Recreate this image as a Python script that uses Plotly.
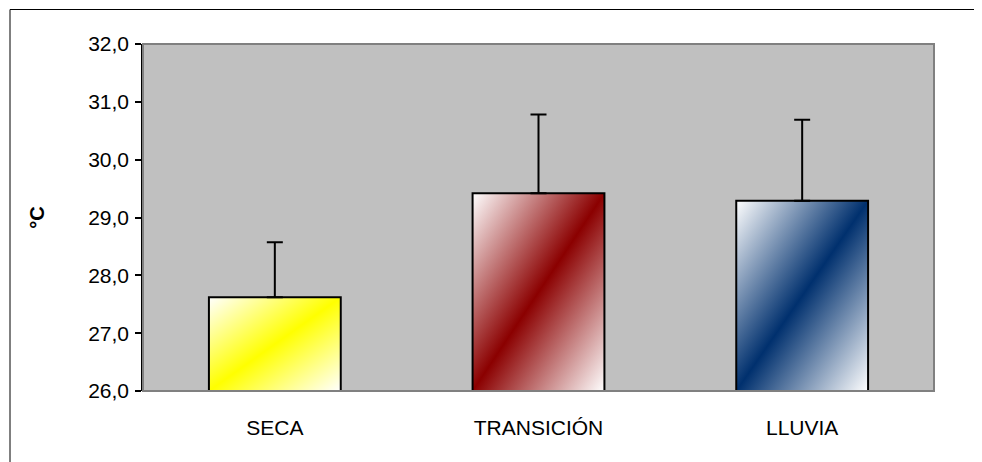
import base64
import plotly.graph_objects as go

categories = ["SECA", "TRANSICIÓN", "LLUVIA"]
means = [27.62, 29.42, 29.29]
errors_up = [0.95, 1.36, 1.40]
bar_colors = ["#FFFF00", "#8B0000", "#00306E"]
y_ticks = [26, 27, 28, 29, 30, 31, 32]
bar_width = 0.5
y_base = 26

def gradient_uri(color):
    svg = (
        '<svg xmlns="http://www.w3.org/2000/svg" width="100" height="100" preserveAspectRatio="none" viewBox="0 0 100 100">'
        '<defs><linearGradient id="g" x1="0" y1="0" x2="1" y2="1">'
        '<stop offset="0" stop-color="#FFFFFF"/>'
        f'<stop offset="0.5" stop-color="{color}"/>'
        '<stop offset="1" stop-color="#FFFFFF"/>'
        '</linearGradient></defs>'
        '<rect x="0" y="0" width="100" height="100" fill="url(#g)"/></svg>'
    )
    return "data:image/svg+xml;base64," + base64.b64encode(svg.encode()).decode()

fig = go.Figure()
fig.add_trace(go.Bar(
    x=categories,
    y=[m - y_base for m in means],
    base=y_base,
    width=bar_width,
    marker=dict(color="rgba(0,0,0,0)", line=dict(color="black", width=2)),
    error_y=dict(type="data", symmetric=False, array=errors_up, arrayminus=[0, 0, 0],
                 color="black", thickness=2, width=8),
    hoverinfo="skip",
))

images = []
for i, (m, c) in enumerate(zip(means, bar_colors)):
    images.append(dict(
        source=gradient_uri(c), xref="x", yref="y",
        x=i - bar_width / 2, y=m, sizex=bar_width, sizey=m - y_base,
        xanchor="left", yanchor="top", sizing="stretch", layer="below",
    ))

# page body has an 8px margin, so the figure is 8px smaller and margins shifted
fig.update_layout(
    width=974, height=454,
    margin=dict(l=135, r=48, t=36, b=71),
    paper_bgcolor="white",
    plot_bgcolor="#C0C0C0",
    separators=",.",
    showlegend=False,
    images=images,
    font=dict(family="Liberation Sans, Arial, sans-serif", color="black"),
    shapes=[
        dict(type="rect", xref="paper", yref="paper", x0=0, x1=1, y0=0, y1=1,
             line=dict(color="#808080", width=2), fillcolor="rgba(0,0,0,0)", layer="above"),
        dict(type="rect", xref="paper", yref="paper", x0=(10 - 143) / 791, x1=1.2,
             y0=-0.4, y1=1 + (44 - 9.5) / 347,
             line=dict(color="black", width=1), fillcolor="rgba(0,0,0,0)"),
    ],
)
fig.update_xaxes(
    type="category", range=[-0.5, 2.5], showgrid=False, zeroline=False,
    ticks="", showline=False,
    tickfont=dict(size=21), ticklabelstandoff=22,
)
fig.update_yaxes(
    range=[26, 32], tickvals=y_ticks, tickformat=".1f",
    showgrid=False, zeroline=False, showline=True, linecolor="black", linewidth=1.5,
    ticks="outside", ticklen=6, tickcolor="black", tickwidth=1.5,
    tickfont=dict(size=21), ticklabelstandoff=2,
    title=dict(text="<b>°C</b>", font=dict(size=20), standoff=38),
)
fig.write_html("out.html")
